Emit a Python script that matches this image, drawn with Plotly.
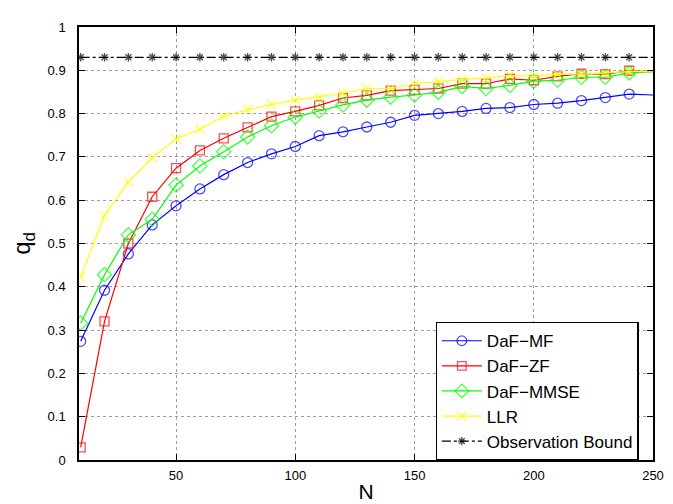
import plotly.graph_objects as go

# detection probability vs. N
N = [10, 20, 30, 40, 50, 60, 70, 80, 90, 100, 110, 120, 130, 140, 150,
     160, 170, 180, 190, 200, 210, 220, 230, 240, 250]

daf_mf = [0.274, 0.392, 0.476, 0.543, 0.587, 0.626, 0.659, 0.687, 0.707, 0.724,
          0.749, 0.758, 0.769, 0.780, 0.796, 0.800, 0.805, 0.812, 0.814, 0.821,
          0.824, 0.830, 0.837, 0.845, 0.843]
daf_zf = [0.029, 0.320, 0.500, 0.608, 0.674, 0.715, 0.743, 0.768, 0.793, 0.805,
          0.819, 0.836, 0.842, 0.853, 0.855, 0.858, 0.869, 0.869, 0.880, 0.877,
          0.886, 0.892, 0.891, 0.899, 0.897]
daf_mmse = [0.316, 0.428, 0.520, 0.556, 0.635, 0.679, 0.712, 0.746, 0.772, 0.792,
            0.806, 0.820, 0.831, 0.838, 0.843, 0.849, 0.863, 0.858, 0.865, 0.875,
            0.877, 0.884, 0.884, 0.894, 0.897]
llr = [0.422, 0.565, 0.642, 0.698, 0.742, 0.764, 0.794, 0.809, 0.821, 0.831,
       0.839, 0.847, 0.858, 0.858, 0.869, 0.874, 0.879, 0.882, 0.888, 0.886,
       0.891, 0.891, 0.894, 0.897, 0.898]
obs_bound = [0.93] * len(N)

x_ticks = [50, 100, 150, 200, 250]
y_ticks = [0, 0.1, 0.2, 0.3, 0.4, 0.5, 0.6, 0.7, 0.8, 0.9, 1]
y_labels = ["0", "0.1", "0.2", "0.3", "0.4", "0.5", "0.6", "0.7", "0.8", "0.9", "1"]

series = [
    ("DaF\u2212MF", daf_mf, "#0000ff", "circle-open", 10, "solid"),
    ("DaF\u2212ZF", daf_zf, "#ff0000", "square-open", 9, "solid"),
    ("DaF\u2212MMSE", daf_mmse, "#00ff00", "diamond-open", 11, "solid"),
    ("LLR", llr, "#ffff00", "x-thin-open", 9, "solid"),
    ("Observation Bound", obs_bound, "#000000", "asterisk-open", 7, "dashdot"),
]

fig = go.Figure()
for name, y, color, symbol, size, dash in series:
    # no marker on the final point at the axis edge
    sizes = [size] * (len(N) - 1) + [0]
    fig.add_trace(go.Scatter(
        x=N, y=y, name=name, mode="lines+markers",
        line=dict(color=color, width=1.2, dash=dash),
        marker=dict(symbol=symbol, size=sizes, color=color,
                    line=dict(color=color, width=1.3)),
        cliponaxis=True,
    ))

axis_common = dict(
    showline=True, linecolor="black", linewidth=1.5, mirror="ticks",
    ticks="inside", ticklen=6, tickcolor="black",
    showgrid=True, gridcolor="#a0a0a0", griddash="dot", gridwidth=1,
    zeroline=False, tickfont=dict(size=13, color="black"),
)

fig.update_xaxes(range=[9.3, 250], tickvals=x_ticks, ticklabelstandoff=3,
                 title=dict(text="N", font=dict(size=21), standoff=2),
                 **axis_common)
fig.update_yaxes(range=[0, 1], tickvals=y_ticks, ticktext=y_labels,
                 ticklabelstandoff=9,
                 title=dict(text="q<sub>d</sub>", font=dict(size=24), standoff=10),
                 **axis_common)

fig.update_layout(
    width=673, height=504,
    margin=dict(l=71, r=28, t=12, b=41),
    paper_bgcolor="white", plot_bgcolor="white",
    font=dict(family="Liberation Sans, Arial, sans-serif", color="black"),
    legend=dict(
        x=0.975, y=0.0, xanchor="right", yanchor="bottom",
        bgcolor="white", bordercolor="black", borderwidth=1.2,
        font=dict(size=17), tracegroupgap=0, itemwidth=40,
    ),
)

fig.write_html("out.html")
